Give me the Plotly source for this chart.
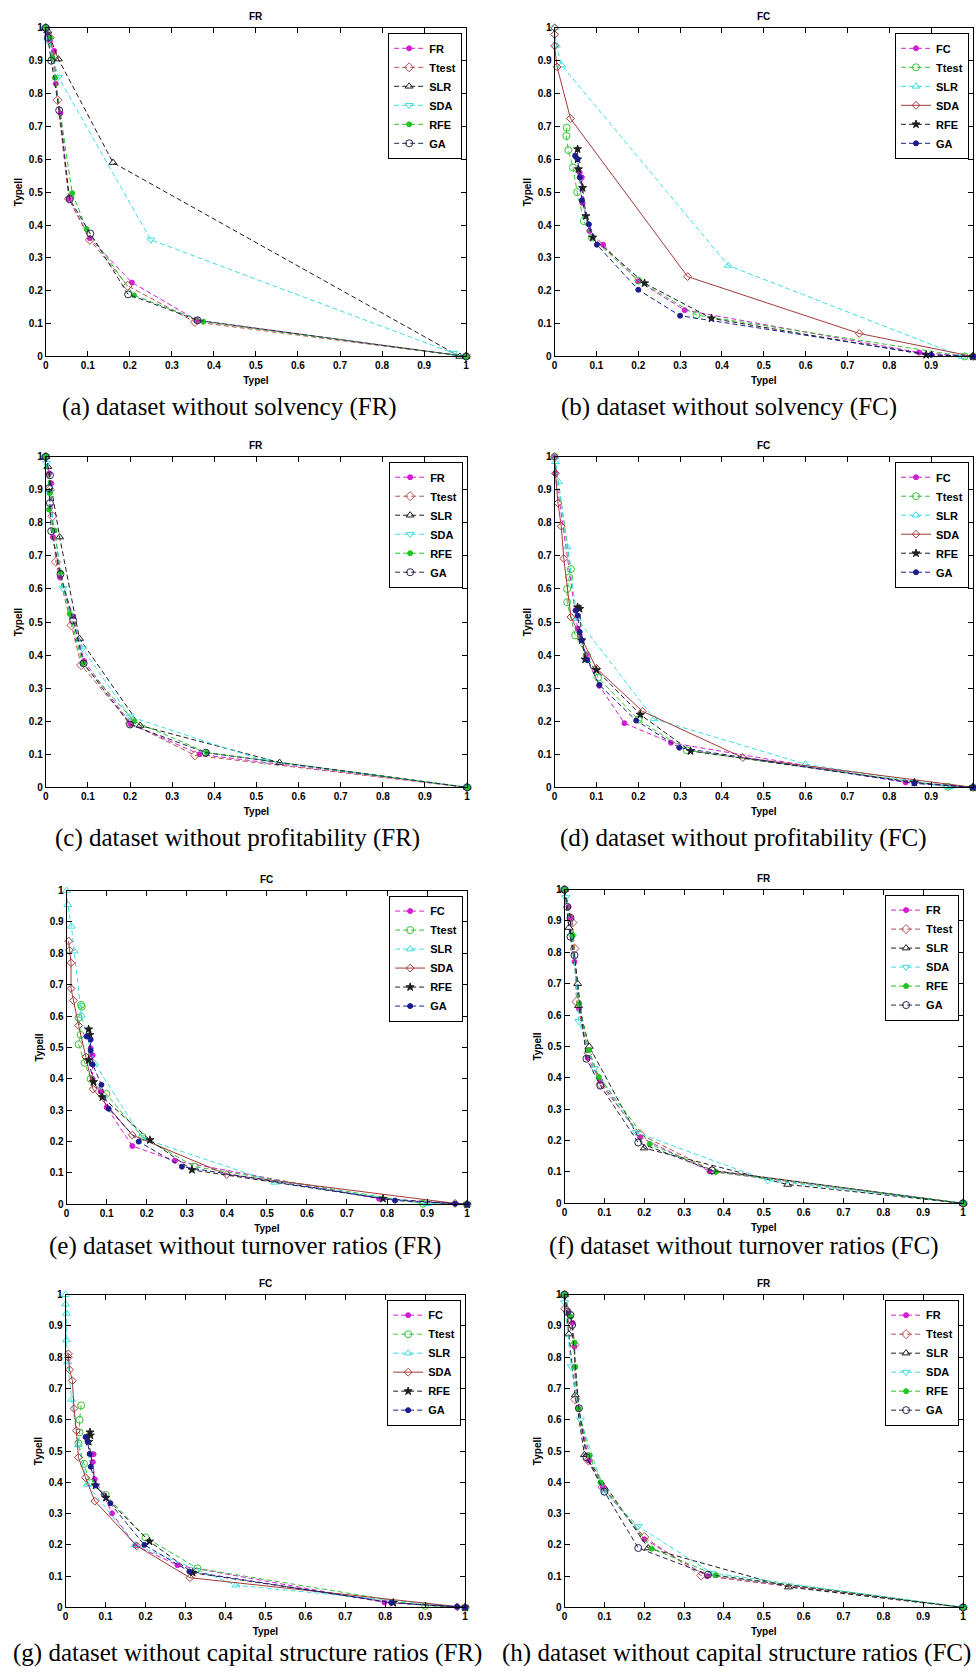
import plotly.graph_objects as go

W, H = 976, 1674

# ---------------- data (TypeI, TypeII) per panel / method ----------------
# (a) dataset without solvency, FR
a_FR = ([0, 0.005, 0.01, 0.02, 0.024, 0.035, 0.055, 0.105, 0.205, 0.36, 1], [1, 0.98, 0.96, 0.93, 0.83, 0.74, 0.48, 0.36, 0.225, 0.11, 0])
a_Ttest = ([0, 0.01, 0.02, 0.028, 0.055, 0.105, 0.195, 0.355, 1], [1, 0.97, 0.91, 0.78, 0.48, 0.355, 0.215, 0.105, 0])
a_SLR = ([0, 0.005, 0.03, 0.16, 0.985, 1], [1, 0.99, 0.905, 0.59, 0.0, 0])
a_SDA = ([0, 0.005, 0.03, 0.25, 0.97, 1], [1, 0.96, 0.85, 0.355, 0.01, 0])
a_RFE = ([0, 0.01, 0.016, 0.022, 0.063, 0.097, 0.21, 0.375, 1], [1, 0.97, 0.91, 0.848, 0.497, 0.388, 0.186, 0.106, 0])
a_GA = ([0, 0.005, 0.013, 0.032, 0.057, 0.106, 0.196, 0.361, 1], [1, 0.97, 0.9, 0.749, 0.479, 0.374, 0.189, 0.11, 0])

# (b) dataset without solvency, FC
b_FC = ([0.06, 0.065, 0.067, 0.083, 0.116, 0.2, 0.311, 0.871, 1], [0.56, 0.545, 0.467, 0.382, 0.34, 0.229, 0.141, 0.012, 0])
b_Ttest = ([0.029, 0.028, 0.033, 0.044, 0.054, 0.07, 0.089, 0.2, 0.339, 0.98, 1], [0.696, 0.671, 0.628, 0.575, 0.5, 0.412, 0.362, 0.231, 0.126, 0.0, 0])
b_SLR = ([0, 0.004, 0.017, 0.415, 0.974, 1], [1, 0.947, 0.886, 0.277, 0.0, 0])
b_SDA = ([0, 0, 0, 0.006, 0.038, 0.318, 0.728, 1], [1, 0.98, 0.945, 0.881, 0.724, 0.243, 0.07, 0])
b_RFE = ([0.055, 0.055, 0.057, 0.067, 0.075, 0.091, 0.215, 0.375, 0.888, 1], [0.631, 0.6, 0.57, 0.513, 0.427, 0.362, 0.223, 0.116, 0.005, 0])
b_GA = ([0.049, 0.055, 0.06, 0.065, 0.082, 0.101, 0.2, 0.3, 0.9, 1], [0.611, 0.6, 0.545, 0.475, 0.402, 0.34, 0.203, 0.124, 0.005, 0])

# (c) dataset without profitability, FR
c_FR = ([0, 0.008, 0.013, 0.017, 0.034, 0.065, 0.091, 0.202, 0.365, 1], [1, 0.95, 0.92, 0.757, 0.635, 0.517, 0.382, 0.192, 0.1, 0])
c_Ttest = ([0, 0.01, 0.016, 0.024, 0.061, 0.084, 0.2, 0.354, 1], [1, 0.9, 0.82, 0.682, 0.49, 0.37, 0.195, 0.097, 0])
c_SLR = ([0, 0.005, 0.033, 0.08, 0.224, 0.555, 1], [1, 0.97, 0.757, 0.45, 0.187, 0.075, 0])
c_SDA = ([0, 0.002, 0.008, 0.041, 0.087, 0.2, 0.52, 1], [1, 0.98, 0.89, 0.602, 0.42, 0.214, 0.08, 0])
c_RFE = ([0, 0.01, 0.008, 0.021, 0.035, 0.057, 0.087, 0.21, 0.382, 1], [1, 0.89, 0.84, 0.777, 0.65, 0.525, 0.375, 0.2, 0.105, 0])
c_GA = ([0, 0.01, 0.008, 0.01, 0.013, 0.035, 0.065, 0.09, 0.2, 0.38, 1], [1, 0.944, 0.905, 0.86, 0.775, 0.645, 0.505, 0.375, 0.19, 0.105, 0])

# (d) dataset without profitability, FC
d_FC = ([0, 0.002, 0.055, 0.06, 0.075, 0.107, 0.167, 0.278, 0.839, 1], [1, 0.95, 0.48, 0.46, 0.4, 0.307, 0.194, 0.135, 0.015, 0])
d_Ttest = ([0, 0.039, 0.035, 0.03, 0.03, 0.049, 0.077, 0.104, 0.2, 0.316, 0.94, 1], [1, 0.66, 0.635, 0.6, 0.56, 0.46, 0.4, 0.332, 0.205, 0.112, 0.002, 0])
d_SLR = ([0, 0.002, 0.009, 0.03, 0.054, 0.238, 0.6, 0.945, 1], [1, 0.985, 0.925, 0.727, 0.51, 0.207, 0.07, 0.002, 0])
d_SDA = ([0, 0.002, 0.008, 0.016, 0.022, 0.039, 0.1, 0.21, 0.45, 1], [1, 0.95, 0.86, 0.79, 0.692, 0.515, 0.36, 0.23, 0.09, 0])
d_RFE = ([0.055, 0.06, 0.065, 0.073, 0.1, 0.205, 0.325, 0.86, 1], [0.545, 0.54, 0.445, 0.387, 0.355, 0.22, 0.11, 0.015, 0])
d_GA = ([0.05, 0.055, 0.06, 0.065, 0.078, 0.107, 0.195, 0.298, 0.86, 1], [0.535, 0.52, 0.47, 0.445, 0.385, 0.31, 0.202, 0.12, 0.012, 0])

# (e) dataset without turnover ratios, FC-type legend
e_FC = ([0.06, 0.065, 0.065, 0.085, 0.1, 0.164, 0.27, 0.78, 1], [0.497, 0.475, 0.4, 0.36, 0.309, 0.186, 0.139, 0.018, 0])
e_Ttest = ([0.036, 0.038, 0.03, 0.035, 0.03, 0.045, 0.06, 0.099, 0.189, 0.32, 0.89, 1], [0.636, 0.63, 0.595, 0.54, 0.51, 0.451, 0.4, 0.352, 0.215, 0.12, 0.002, 0])
e_SLR = ([0, 0.003, 0.012, 0.019, 0.037, 0.07, 0.19, 0.52, 0.9, 1], [1, 0.955, 0.886, 0.807, 0.602, 0.449, 0.21, 0.07, 0.002, 0])
e_SDA = ([0.005, 0.007, 0.011, 0.011, 0.017, 0.03, 0.048, 0.066, 0.164, 0.4, 0.97, 1], [0.839, 0.81, 0.77, 0.688, 0.65, 0.57, 0.47, 0.367, 0.221, 0.095, 0.003, 0])
e_RFE = ([0.055, 0.058, 0.055, 0.067, 0.089, 0.208, 0.313, 0.79, 1], [0.558, 0.54, 0.46, 0.39, 0.342, 0.205, 0.11, 0.018, 0])
e_GA = ([0.05, 0.06, 0.06, 0.065, 0.087, 0.105, 0.18, 0.288, 0.82, 0.97, 1], [0.535, 0.525, 0.49, 0.446, 0.381, 0.305, 0.2, 0.12, 0.012, 0.002, 0])

# (f) dataset without turnover ratios, FR-type legend
f_FR = ([0, 0.01, 0.015, 0.025, 0.036, 0.058, 0.09, 0.19, 0.364, 1], [1, 0.945, 0.91, 0.77, 0.62, 0.464, 0.39, 0.211, 0.102, 0])
f_Ttest = ([0, 0.02, 0.025, 0.03, 0.06, 0.09, 0.19, 0.37, 1], [1, 0.895, 0.812, 0.643, 0.48, 0.38, 0.22, 0.105, 0])
f_SLR = ([0, 0.011, 0.033, 0.035, 0.062, 0.2, 0.56, 1], [1, 0.879, 0.7, 0.63, 0.5, 0.176, 0.06, 0])
f_SDA = ([0, 0.003, 0.02, 0.036, 0.075, 0.18, 0.51, 1], [1, 0.975, 0.85, 0.58, 0.43, 0.226, 0.073, 0])
f_RFE = ([0, 0.02, 0.037, 0.061, 0.086, 0.214, 0.38, 1], [1, 0.855, 0.636, 0.488, 0.403, 0.189, 0.1, 0])
f_GA = ([0, 0.007, 0.015, 0.015, 0.025, 0.055, 0.09, 0.185, 0.37, 1], [1, 0.945, 0.91, 0.85, 0.791, 0.461, 0.375, 0.194, 0.105, 0])

# (g) dataset without capital structure ratios, FC-type legend
g_FC = ([0.065, 0.07, 0.068, 0.073, 0.095, 0.116, 0.175, 0.28, 0.798, 1], [0.489, 0.49, 0.465, 0.41, 0.36, 0.301, 0.198, 0.135, 0.016, 0])
g_Ttest = ([0.039, 0.035, 0.035, 0.032, 0.046, 0.06, 0.1, 0.2, 0.33, 0.9, 1], [0.646, 0.6, 0.56, 0.525, 0.459, 0.4, 0.36, 0.224, 0.125, 0.005, 0])
g_SLR = ([0, 0, 0.002, 0.002, 0.005, 0.015, 0.032, 0.054, 0.174, 0.426, 1], [1, 0.97, 0.94, 0.855, 0.785, 0.665, 0.52, 0.393, 0.2, 0.071, 0])
g_SDA = ([0.007, 0.007, 0.01, 0.017, 0.021, 0.027, 0.032, 0.05, 0.073, 0.178, 0.311, 0.98, 1], [0.811, 0.8, 0.76, 0.725, 0.636, 0.565, 0.48, 0.415, 0.34, 0.197, 0.095, 0.002, 0])
g_RFE = ([0.061, 0.062, 0.058, 0.075, 0.101, 0.21, 0.318, 0.82, 1], [0.56, 0.55, 0.53, 0.39, 0.351, 0.211, 0.111, 0.015, 0])
g_GA = ([0.05, 0.055, 0.06, 0.063, 0.075, 0.112, 0.197, 0.31, 0.815, 0.98, 1], [0.545, 0.53, 0.491, 0.45, 0.39, 0.333, 0.2, 0.115, 0.015, 0.002, 0])

# (h) dataset without capital structure ratios, FR-type legend
h_FR = ([0, 0.01, 0.02, 0.025, 0.025, 0.035, 0.061, 0.096, 0.2, 0.358, 1], [1, 0.945, 0.91, 0.834, 0.77, 0.635, 0.47, 0.385, 0.218, 0.1, 0])
h_Ttest = ([0, 0.002, 0.025, 0.027, 0.06, 0.095, 0.2, 0.343, 1], [1, 0.955, 0.84, 0.665, 0.47, 0.385, 0.225, 0.102, 0])
h_SLR = ([0, 0.011, 0.027, 0.05, 0.21, 0.562, 1], [1, 0.874, 0.679, 0.488, 0.19, 0.065, 0])
h_SDA = ([0, 0.0, 0.017, 0.04, 0.1, 0.185, 0.37, 1], [1, 0.975, 0.77, 0.6, 0.37, 0.259, 0.11, 0])
h_RFE = ([0, 0.015, 0.025, 0.027, 0.035, 0.063, 0.09, 0.219, 0.38, 1], [1, 0.93, 0.847, 0.769, 0.635, 0.486, 0.4, 0.188, 0.103, 0])
h_GA = ([0, 0.007, 0.015, 0.019, 0.036, 0.055, 0.1, 0.185, 0.36, 1], [1, 0.945, 0.935, 0.903, 0.637, 0.48, 0.37, 0.19, 0.105, 0])

methods_FR = ["FR", "Ttest", "SLR", "SDA", "RFE", "GA"]
methods_FC = ["FC", "Ttest", "SLR", "SDA", "RFE", "GA"]

captions = [
    "(a) dataset without solvency (FR)",
    "(b) dataset without solvency (FC)",
    "(c) dataset without profitability (FR)",
    "(d) dataset without profitability (FC)",
    "(e) dataset without turnover ratios (FR)",
    "(f) dataset without turnover ratios (FC)",
    "(g) dataset without capital structure ratios (FR)",
    "(h) dataset without capital structure ratios (FC)",
]
panel_titles = ["FR", "FC", "FR", "FC", "FC", "FR", "FC", "FR"]
x_ticks = [0, 0.1, 0.2, 0.3, 0.4, 0.5, 0.6, 0.7, 0.8, 0.9, 1]
y_ticks = [0, 0.1, 0.2, 0.3, 0.4, 0.5, 0.6, 0.7, 0.8, 0.9, 1]

panel_data = [
    [a_FR, a_Ttest, a_SLR, a_SDA, a_RFE, a_GA],
    [b_FC, b_Ttest, b_SLR, b_SDA, b_RFE, b_GA],
    [c_FR, c_Ttest, c_SLR, c_SDA, c_RFE, c_GA],
    [d_FC, d_Ttest, d_SLR, d_SDA, d_RFE, d_GA],
    [e_FC, e_Ttest, e_SLR, e_SDA, e_RFE, e_GA],
    [f_FR, f_Ttest, f_SLR, f_SDA, f_RFE, f_GA],
    [g_FC, g_Ttest, g_SLR, g_SDA, g_RFE, g_GA],
    [h_FR, h_Ttest, h_SLR, h_SDA, h_RFE, h_GA],
]
fr_type = [True, False, True, False, False, True, False, True]

# ---------------- styles ----------------
DASH = "5px,3px"
style_FR = [  # color, dash, symbol, size
    ("#D21ED2", DASH, "circle", 5),
    ("#B5524F", DASH, "diamond-open", 7),
    ("#1E1E1E", DASH, "triangle-up-open", 7),
    ("#3FDDE0", DASH, "triangle-down-open", 7),
    ("#22C322", DASH, "circle", 5),
    ("#24244E", DASH, "circle-open", 7),
]
style_FC = [
    ("#D21ED2", DASH, "circle", 5),
    ("#33C633", DASH, "circle-open", 7),
    ("#3FDDE0", DASH, "triangle-up-open", 7),
    ("#A33A3A", "solid", "diamond-open", 6),
    ("#1E1E1E", DASH, "star", 6),
    ("#1C1C8C", DASH, "circle", 5),
]

# panel boxes in pixels: left, right, top, bottom
boxes = [
    (43, 466, 22, 353), (555, 976, 22, 353),
    (43, 467, 454, 787), (555, 976, 454, 787),
    (64, 467, 891, 1207), (565, 966, 890, 1206),
    (63, 465, 1298, 1613), (565, 966, 1298, 1613),
]
cap_pos = [  # x, y, anchor
    (228, 404, "center"), (730, 404, "center"),
    (236, 838, "center"), (745, 838, "center"),
    (243, 1249, "center"), (746, 1249, "center"),
    (246, 1659, "center"), (500, 1659, "left"),
]

TICKFONT = dict(family="Arial", size=10, color="black", weight="bold")

fig = go.Figure()
layout = dict(
    width=W, height=H, autosize=False,
    margin=dict(l=0, r=0, t=0, b=0),
    paper_bgcolor="white", plot_bgcolor="white",
    annotations=[], showlegend=True,
)

for i in range(8):
    left, right, top, bottom = boxes[i]
    sfx = "" if i == 0 else str(i + 1)
    xa, ya = "x" + sfx, "y" + sfx
    lg = "legend" + sfx
    names = methods_FR if fr_type[i] else methods_FC
    styles = style_FR if fr_type[i] else style_FC
    for (xs, ys), name, (col, dash, sym, sz) in zip(panel_data[i], names, styles):
        fig.add_trace(go.Scatter(
            x=xs, y=ys, name=name, mode="lines+markers",
            xaxis=xa, yaxis=ya, legend=lg, cliponaxis=False,
            line=dict(color=col, width=1, dash=dash),
            marker=dict(symbol=sym, size=sz, color=col, line=dict(color=col, width=1)),
        ))
    axis_common = dict(
        range=[0, 1], showgrid=False, zeroline=False, showline=True,
        linecolor="black", linewidth=1, mirror="ticks", ticks="inside",
        ticklen=5, tickwidth=1, tickcolor="black", tickfont=TICKFONT,
        fixedrange=True,
    )
    layout["xaxis" + sfx] = dict(
        axis_common, domain=[left / W, right / W], anchor=ya,
        tickvals=x_ticks, ticktext=[f"{v:g}" for v in x_ticks],
        title=dict(text="TypeI", font=dict(family="Arial", size=10, color="black", weight="bold"), standoff=6),
    )
    layout["yaxis" + sfx] = dict(
        axis_common, domain=[1 - bottom / H, 1 - top / H], anchor=xa,
        tickvals=y_ticks, ticktext=[f"{v:g}" for v in y_ticks],
        title=dict(text="TypeII", font=dict(family="Arial", size=10, color="black", weight="bold"), standoff=4),
    )
    layout[lg] = dict(
        x=(right - 4) / W, y=1 - (top + 5) / H, xanchor="right", yanchor="top",
        xref="paper", yref="paper",
        bgcolor="white", bordercolor="black", borderwidth=1,
        font=dict(family="Arial", size=11, color="black", weight="bold"),
        tracegroupgap=0, itemwidth=30,
    )
    layout["annotations"].append(dict(
        text=panel_titles[i], x=(left + right) / 2 / W, y=1 - (top - 11) / H,
        xref="paper", yref="paper", showarrow=False, xanchor="center", yanchor="middle",
        font=dict(family="Arial", size=10, color="black", weight="bold"),
    ))
    cx, cy, anc = cap_pos[i]
    layout["annotations"].append(dict(
        text=captions[i], x=cx / W, y=1 - cy / H,
        xref="paper", yref="paper", showarrow=False, xanchor=anc, yanchor="middle",
        font=dict(family="Liberation Serif, Times New Roman, serif", size=25, color="black"),
    ))

fig.update_layout(**layout)
fig.write_html("out.html")
